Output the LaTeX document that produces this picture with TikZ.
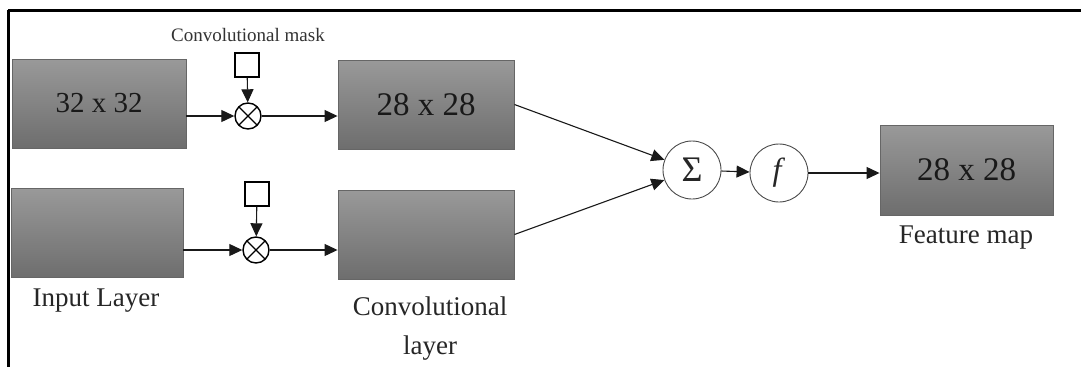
\documentclass[tikz,border=0pt]{standalone}
\usepackage{fontspec}
\setmainfont{Liberation Serif}
\usetikzlibrary{arrows.meta}
\begin{document}
\begin{tikzpicture}[x=1pt,y=-1pt,
  layerbox/.style={draw=black!60, line width=0.9pt, top color=black!40, bottom color=black!57,
    minimum width=174pt, minimum height=89pt, inner sep=0pt, text=black!90,
    font=\fontsize{33}{36}\selectfont},
  masksq/.style={draw=black, line width=1.4pt, minimum size=24pt, inner sep=0pt, fill=white},
  otimesnode/.style={draw=black, line width=1.4pt, circle, minimum size=26pt, inner sep=0pt,
    path picture={\draw[line width=1.3pt] (path picture bounding box.north west) -- (path picture bounding box.south east)
      (path picture bounding box.north east) -- (path picture bounding box.south west);}},
  opnode/.style={draw=black!70, line width=0.9pt, circle, minimum size=58pt, inner sep=0pt,
    text=black!85},
  lbl/.style={text=black!85, font=\fontsize{27}{39}\selectfont, align=center, inner sep=0pt},
  conn/.style={draw=black!90, line width=1.1pt, -{Triangle[length=13pt,width=12pt]}}
]
\useasboundingbox (0,0) rectangle (1081,367);
\fill[white] (0,0) rectangle (1081,367);
% frame lines
\draw[line width=3pt] (8,10) -- (1081,10);
\draw[line width=3pt] (8,10) -- (8,367);

% boxes
\node[layerbox, minimum width=174pt, font=\fontsize{29}{32}\selectfont] (A) at (99,103.5) {32 x 32};
\node[layerbox, minimum width=176pt] (B) at (426,104.5) {28 x 28};
\node[layerbox, minimum width=172pt] (C) at (97,233) {};
\node[layerbox, minimum width=176pt] (D) at (426,234.5) {};
\node[layerbox, minimum width=173pt, minimum height=90pt] (F) at (966.5,170) {28 x 28};

% mask symbols
\node[text=black!80, font=\fontsize{19}{22}\selectfont, inner sep=0pt] (masklbl) at (248,35) {Convolutional mask};
\node[masksq] (M1) at (247,65) {};
\node[otimesnode] (X1) at (248,116) {};
\node[masksq] (M2) at (257,194) {};
\node[otimesnode] (X2) at (256,250) {};

% operators
\node[opnode, font=\fontsize{36}{38}\selectfont] (S) at (692,170) {Σ};
\node[opnode, font=\fontsize{32}{34}\selectfont] (G) at (779,173) {\textit{f}};

% labels
\node[lbl] (lin) at (96,301) {Input Layer};
\node[lbl] (lconv) at (430,329) {Convolutional\\layer};
\node[lbl] (lfeat) at (966,238) {Feature map};

% connectors
\draw[conn] (M1) -- (X1);
\draw[conn] (M2) -- (X2);
\draw[conn] (A.east |- X1) -- (X1);
\draw[conn] (X1) -- (B.west |- X1);
\draw[conn] (C.east |- X2) -- (X2);
\draw[conn] (X2) -- (D.west |- X2);
\draw[conn] (B.east) -- (S);
\draw[conn] (D.east) -- (S);
\draw[conn] (S) -- (G);
\draw[conn] (G) -- (F.west |- G);
\end{tikzpicture}
\end{document}
